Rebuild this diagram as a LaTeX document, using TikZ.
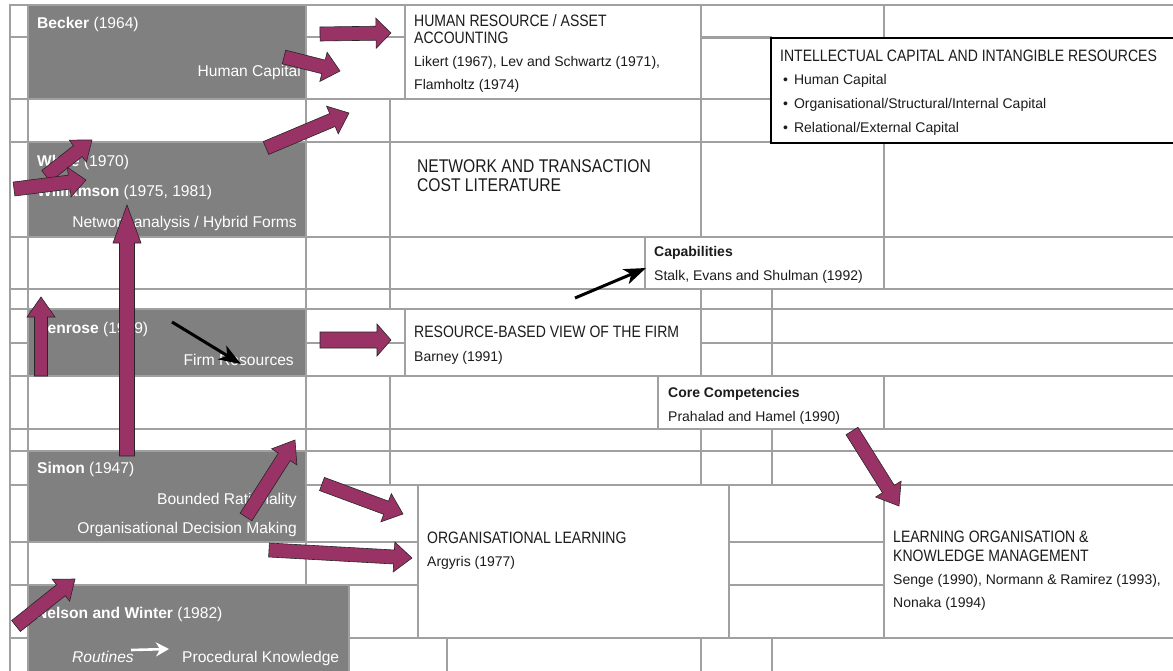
\documentclass[tikz,border=0pt]{standalone}
\usepackage{fontspec}
\setmainfont{Liberation Sans}
\newfontfamily\capsfont{Liberation Sans}[FakeStretch=0.85]
\usetikzlibrary{calc,arrows.meta}

\definecolor{gridc}{RGB}{160,160,160}
\definecolor{boxgray}{RGB}{128,128,128}
\definecolor{plum}{RGB}{153,51,102}
\definecolor{inkc}{RGB}{28,28,28}

% block arrow: start, tip, half shaft width, half head width, head length
\newcommand{\blockarrow}[5]{%
  \coordinate (bbase) at ($(#2)!#5!(#1)$);
  \filldraw[plumarrow] ($(#1)!#3!90:(#2)$) -- ($(bbase)!#3!90:(#2)$)
    -- ($(bbase)!#4!90:(#2)$) -- (#2) -- ($(bbase)!#4!-90:(#2)$)
    -- ($(bbase)!#3!-90:(#2)$) -- ($(#1)!#3!-90:(#2)$) -- cycle;}
% grid cell
\newcommand{\cell}[4]{\draw[gridline] (#1,#2) rectangle (#3,#4);}
% content box: style, name, x, y, width, height
\newcommand{\cbox}[6]{\node[#1, minimum width=#5pt, minimum height=#6pt] (#2) at (#3,#4) {};}

\tikzset{
  gridline/.style={draw=gridc, line width=1.3pt},
  boxbase/.style={inner sep=0pt, outer sep=0pt, anchor=north west, line width=1.3pt},
  graybox/.style={boxbase, fill=boxgray, draw=gridc},
  whitebox/.style={boxbase, fill=white, draw=gridc},
  icbox/.style={boxbase, fill=white, draw=black, line width=2pt},
  gtext/.style={text=white, inner sep=0pt, font=\fontsize{15.6}{18}\selectfont},
  btext/.style={text=inkc, inner sep=0pt, font=\fontsize{14}{16}\selectfont},
  ctext/.style={text=inkc, inner sep=0pt, font=\capsfont\fontsize{16.5}{19}\selectfont},
  bigctext/.style={text=inkc, inner sep=0pt, font=\capsfont\fontsize{18.4}{21}\selectfont},
  plumarrow/.style={fill=plum, draw=black!85, line width=0.6pt, line join=miter},
  thinarrow/.style={draw=black, line width=3pt, -{Stealth[length=22pt,width=16pt,inset=6pt]}},
  whitearrow/.style={draw=white, line width=2.6pt, -{Stealth[length=13pt,width=14pt,inset=4pt]}}
}

\begin{document}
\begin{tikzpicture}[x=1pt,y=-1pt]
\useasboundingbox (0,0) rectangle (1173,670);
\clip (0,0) rectangle (1173,670);
\fill[white] (0,0) rectangle (1173,670);

% narrow left column
\foreach \a/\b in {5/37,37/99,99/142,142/237,237/289,289/309,309/343,343/376,
                   376/429,429/451,451/485,485/542,542/585,585/638,638/690}
  {\cell{10}{\a}{28}{\b}}
% second column, between the author boxes
\foreach \a/\b in {99/142,237/289,289/309,376/429,429/451,542/585}
  {\cell{28}{\a}{306}{\b}}
% third column
\cell{306}{5}{405}{37}   \cell{306}{37}{405}{99}
\cell{306}{99}{390}{142} \cell{306}{142}{390}{237}
\cell{306}{237}{390}{289} \cell{306}{289}{390}{309}
\cell{306}{309}{405}{343} \cell{306}{343}{405}{376}
\cell{306}{376}{390}{429} \cell{306}{429}{390}{451}
\cell{306}{451}{390}{485} \cell{306}{485}{418}{542}
\cell{306}{542}{418}{585} \cell{349}{585}{418}{638}
\cell{349}{638}{447}{690}
% middle column
\cell{390}{99}{701}{142}  \cell{390}{237}{645}{289}
\cell{390}{289}{701}{309} \cell{390}{376}{658}{429}
\cell{390}{429}{701}{451} \cell{390}{451}{701}{485}
\cell{447}{638}{701}{690}
% right columns
\cell{701}{5}{884}{38}    \cell{884}{5}{1190}{38}
\cell{701}{37}{771}{99}   \cell{701}{99}{771}{142}
\cell{701}{142}{884}{237} \cell{884}{142}{1190}{237}
\cell{884}{237}{1190}{289}
\foreach \a/\b in {289/309,309/343,343/376,429/451,451/485,638/690}
  {\cell{701}{\a}{772}{\b}\cell{772}{\a}{1190}{\b}}
\cell{884}{376}{1190}{429}
\cell{729}{485}{884}{542}  \cell{729}{542}{884}{585}
\cell{729}{585}{884}{638}

% author boxes
\cbox{graybox}{becker}{28}{5}{278}{94}
\cbox{graybox}{white}{28}{142}{278}{95}
\cbox{graybox}{penrose}{28}{309}{278}{67}
\cbox{graybox}{simon}{28}{451}{278}{91}
\cbox{graybox}{nelson}{28}{585}{321}{100}
% literature boxes
\cbox{whitebox}{hr}{405}{5}{296}{94}
\cbox{whitebox}{network}{390}{142}{311}{95}
\cbox{whitebox}{caps}{645}{237}{239}{52}
\cbox{whitebox}{rbv}{405}{309}{296}{67}
\cbox{whitebox}{corecomp}{658}{376}{226}{53}
\cbox{whitebox}{orglearn}{418}{485}{311}{153}
\cbox{whitebox}{learnorg}{884}{485}{320}{153}
\cbox{icbox}{ic}{771}{38}{430}{105}

% author texts
\node[gtext, anchor=base west] (t-becker) at (37,28) {\textbf{Becker} (1964)};
\node[gtext, anchor=base east] (t-hc) at (301,76) {Human Capital};
\node[gtext, anchor=base west] (t-white) at (37,166) {\textbf{White} (1970)};
\node[gtext, anchor=base west] (t-will) at (37,196) {\textbf{Williamson} (1975, 1981)};
\node[gtext, anchor=base east] (t-net) at (297,227) {Network analysis / Hybrid Forms};
\node[gtext, anchor=base west] (t-penrose) at (37,333) {\textbf{Penrose} (1959)};
\node[gtext, anchor=base east] (t-firm) at (294,365) {Firm Resources};
\node[gtext, anchor=base west] (t-simon) at (37,473) {\textbf{Simon} (1947)};
\node[gtext, anchor=base east] (t-bounded) at (297,504) {Bounded Rationality};
\node[gtext, anchor=base east] (t-odm) at (297,533) {Organisational Decision Making};
\node[gtext, anchor=base west] (t-nelson) at (36,618) {\textbf{Nelson and Winter} (1982)};
\node[gtext, anchor=base west] (t-routines) at (72,662) {\itshape Routines};
\node[gtext, anchor=base west] (t-proc) at (182,662) {Procedural Knowledge};

% literature texts
\node[ctext, anchor=base west] (t-hr1) at (414,26) {HUMAN RESOURCE / ASSET};
\node[ctext, anchor=base west] (t-hr2) at (414,43) {ACCOUNTING};
\node[btext, anchor=base west] (t-hr3) at (414,66) {Likert (1967), Lev and Schwartz (1971),};
\node[btext, anchor=base west] (t-hr4) at (414,89) {Flamholtz (1974)};

\node[ctext, anchor=base west] (t-ic1) at (780,61) {INTELLECTUAL CAPITAL AND INTANGIBLE RESOURCES};
\node[btext, anchor=base west] (t-ic2) at (783,84) {•\hspace{6pt}Human Capital};
\node[btext, anchor=base west] (t-ic3) at (783,108) {•\hspace{6pt}Organisational/Structural/Internal Capital};
\node[btext, anchor=base west] (t-ic4) at (783,132) {•\hspace{6pt}Relational/External Capital};

\node[bigctext, anchor=base west] (t-nt1) at (417,172) {NETWORK AND TRANSACTION};
\node[bigctext, anchor=base west] (t-nt2) at (417,191) {COST LITERATURE};

\node[btext, anchor=base west] (t-cap1) at (654,256) {\textbf{Capabilities}};
\node[btext, anchor=base west] (t-cap2) at (654,280) {Stalk, Evans and Shulman (1992)};

\node[ctext, anchor=base west] (t-rbv1) at (414,337) {RESOURCE-BASED VIEW OF THE FIRM};
\node[btext, anchor=base west] (t-rbv2) at (414,361) {Barney (1991)};

\node[btext, anchor=base west] (t-cc1) at (668,397) {\textbf{Core Competencies}};
\node[btext, anchor=base west] (t-cc2) at (668,421) {Prahalad and Hamel (1990)};

\node[ctext, anchor=base west] (t-ol1) at (427,543) {ORGANISATIONAL LEARNING};
\node[btext, anchor=base west] (t-ol2) at (427,566) {Argyris (1977)};

\node[ctext, anchor=base west] (t-lo1) at (893,542) {LEARNING ORGANISATION \&};
\node[ctext, anchor=base west] (t-lo2) at (893,561) {KNOWLEDGE MANAGEMENT};
\node[btext, anchor=base west] (t-lo3) at (893,584) {Senge (1990), Normann \& Ramirez (1993),};
\node[btext, anchor=base west] (t-lo4) at (893,607) {Nonaka (1994)};

% arrow end points
\coordinate (a1s) at (320,34);  \coordinate (a1t) at (391,33);
\coordinate (a2s) at (284,57);  \coordinate (a2t) at (340,71);
\coordinate (a3s) at (266,148); \coordinate (a3t) at (349,113);
\coordinate (a4s) at (46,176);  \coordinate (a4t) at (92,140);
\coordinate (a5s) at (14,189);  \coordinate (a5t) at (86,180);
\coordinate (a6s) at (127,456); \coordinate (a6t) at (127,205);
\coordinate (a7s) at (41,376);  \coordinate (a7t) at (41,297);
\coordinate (a8s) at (320,340); \coordinate (a8t) at (391,340);
\coordinate (a9s) at (246,517); \coordinate (a9t) at (295,440);
\coordinate (a10s) at (322,484); \coordinate (a10t) at (403,514);
\coordinate (a11s) at (269,550); \coordinate (a11t) at (412,558);
\coordinate (a12s) at (16,626); \coordinate (a12t) at (75,579);
\coordinate (a13s) at (852,431); \coordinate (a13t) at (899,506);
\coordinate (b1s) at (575,298); \coordinate (b1t) at (646,268);
\coordinate (b2s) at (172,322); \coordinate (b2t) at (241,364);
\coordinate (w1s) at (131,650); \coordinate (w1t) at (169,649);

% thin arrows
\draw[thinarrow] (b1s) -- (b1t);
\draw[thinarrow] (b2s) -- (b2t);
\draw[whitearrow] (w1s) -- (w1t);

% block arrows
\blockarrow{a1s}{a1t}{7pt}{15pt}{15pt}
\blockarrow{a2s}{a2t}{7pt}{15pt}{17pt}
\blockarrow{a3s}{a3t}{7pt}{15pt}{18pt}
\blockarrow{a4s}{a4t}{7pt}{14pt}{18pt}
\blockarrow{a5s}{a5t}{7pt}{15pt}{17pt}
\blockarrow{a6s}{a6t}{7.5pt}{14pt}{38pt}
\blockarrow{a7s}{a7t}{6.5pt}{14pt}{20pt}
\blockarrow{a8s}{a8t}{8pt}{16pt}{14pt}
\blockarrow{a9s}{a9t}{7pt}{15pt}{20pt}
\blockarrow{a10s}{a10t}{7pt}{15pt}{18pt}
\blockarrow{a11s}{a11t}{7pt}{15pt}{18pt}
\blockarrow{a12s}{a12t}{7pt}{14pt}{18pt}
\blockarrow{a13s}{a13t}{7pt}{15pt}{20pt}
\end{tikzpicture}
\end{document}
